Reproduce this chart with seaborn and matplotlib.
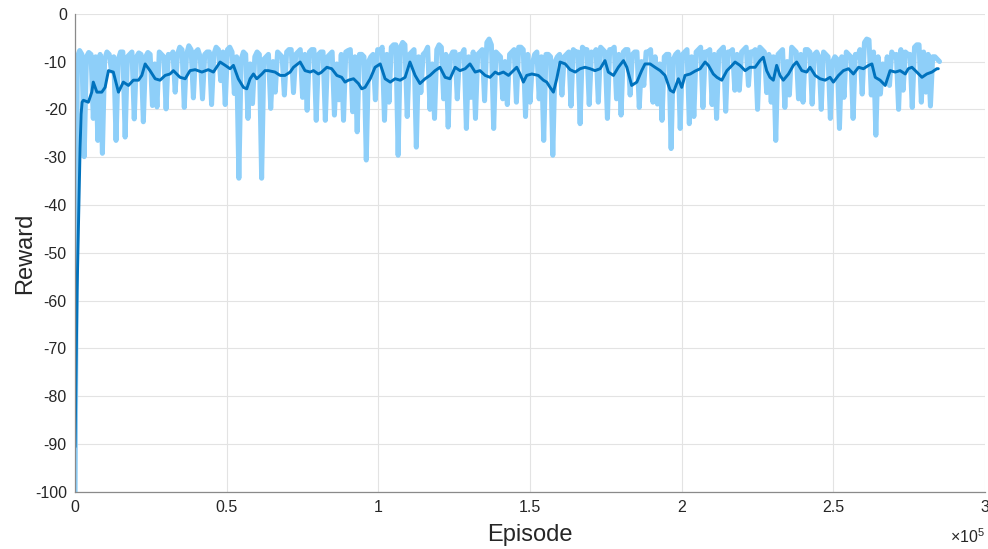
import matplotlib
matplotlib.use("Agg")
import matplotlib.pyplot as plt
import numpy as np
import pandas as pd
import seaborn as sns
from matplotlib.ticker import FuncFormatter, MultipleLocator

RAW_STEP = 750
raw_reward = [
    -100, -9.0, -7.7, -8.5, -29.9, -9.0, -8.1, -8.5, -21.9, -9.0,
    -26.5, -8.5, -29.2, -9.5, -8.0, -8.5, -12.0, -9.0, -26.5, -9.5,
    -8.0, -8.0, -25.8, -9.0, -8.5, -8.0, -22.0, -9.0, -8.2, -8.5,
    -22.6, -9.0, -8.1, -8.5, -19.2, -10.5, -19.5, -8.0, -8.5, -9.0,
    -19.9, -8.5, -9.0, -8.0, -16.4, -8.5, -7.0, -7.5, -19.6, -8.5,
    -6.7, -7.5, -17.6, -8.0, -7.5, -9.0, -17.8, -8.5, -8.0, -8.0,
    -19.0, -8.5, -7.0, -7.5, -14.0, -8.0, -19.0, -7.5, -7.0, -8.0,
    -16.7, -9.0, -34.4, -9.5, -8.0, -8.5, -21.9, -10.5, -18.8, -9.0,
    -8.0, -8.5, -34.4, -9.5, -9.0, -8.5, -19.8, -10.0, -16.4, -8.0,
    -8.5, -9.0, -17.0, -8.0, -7.5, -7.5, -16.5, -8.5, -8.0, -7.5,
    -17.5, -8.5, -20.2, -8.0, -7.5, -7.5, -22.3, -8.5, -8.0, -8.0,
    -22.3, -9.0, -8.5, -8.0, -21.2, -10.5, -18.0, -8.5, -22.3, -8.0,
    -7.7, -7.5, -20.5, -9.0, -24.7, -8.5, -8.5, -9.0, -30.6, -10.0,
    -9.0, -8.5, -18.0, -7.5, -8.0, -7.0, -22.3, -8.5, -18.5, -7.0,
    -6.5, -6.5, -29.6, -7.0, -6.0, -6.5, -21.5, -8.5, -8.0, -7.5,
    -27.9, -9.0, -16.5, -8.5, -8.0, -7.0, -20.0, -10.5, -21.9, -7.5,
    -6.5, -7.0, -17.8, -8.5, -23.7, -9.0, -8.0, -8.0, -17.8, -8.5,
    -8.5, -7.5, -24.0, -9.0, -17.5, -8.0, -21.9, -8.5, -8.0, -7.5,
    -18.2, -6.0, -5.3, -6.5, -24.0, -8.0, -8.5, -9.0, -17.8, -10.0,
    -19.0, -8.5, -8.0, -7.5, -18.5, -7.0, -7.0, -7.5, -21.5, -8.5,
    -18.5, -10.5, -8.5, -8.0, -17.8, -9.0, -26.5, -8.5, -8.5, -9.0,
    -29.6, -10.0, -9.0, -8.5, -17.0, -9.0, -8.5, -8.0, -19.3, -7.5,
    -8.0, -8.0, -23.0, -7.0, -7.5, -7.5, -19.0, -8.0, -8.5, -7.5,
    -18.5, -7.0, -7.5, -8.0, -21.9, -7.5, -7.5, -7.0, -17.8, -8.5,
    -21.2, -8.0, -7.5, -7.5, -17.0, -8.5, -8.0, -8.0, -19.6, -10.0,
    -15.0, -8.0, -8.0, -7.5, -18.5, -9.0, -18.9, -10.5, -22.3, -9.0,
    -8.5, -8.5, -28.2, -9.5, -8.5, -8.0, -24.0, -8.5, -8.0, -7.5,
    -23.0, -9.0, -21.5, -8.0, -7.5, -7.0, -19.6, -8.0, -8.0, -7.5,
    -19.0, -8.5, -21.9, -8.0, -7.5, -7.0, -20.4, -8.0, -8.0, -7.5,
    -16.0, -8.5, -16.0, -8.0, -7.5, -7.0, -15.0, -8.0, -8.0, -7.5,
    -20.0, -7.0, -7.5, -8.0, -16.5, -8.5, -18.5, -9.0, -26.5, -8.5,
    -8.0, -7.5, -19.6, -10.0, -17.0, -7.0, -7.5, -8.0, -17.8, -8.5,
    -18.5, -7.5, -7.5, -8.0, -18.9, -8.5, -8.0, -9.0, -20.0, -8.0,
    -8.5, -9.0, -21.9, -10.0, -9.0, -9.5, -24.0, -9.0, -17.5, -8.0,
    -8.5, -9.0, -21.9, -8.5, -9.0, -7.5, -16.8, -6.0, -5.3, -5.5,
    -17.0, -8.0, -25.4, -9.0, -16.8, -10.5, -13.9, -9.0, -15.0, -8.0,
    -9.0, -8.5, -20.0, -7.5, -16.0, -8.0, -8.5, -8.5, -19.6, -7.0,
    -6.5, -6.5, -18.5, -8.0, -16.4, -8.5, -19.3, -9.0, -9.0, -9.5,
    -10.0,
]

# smoothed reward (thousands of episodes, value)
smooth_episode_k = [
    0, 0.33, 0.66, 0.99, 1.32, 1.65, 1.98, 2.31, 2.74, 4.38,
    5.5, 6.0, 7.2, 8.8, 9.9, 11.0, 12.6, 14.3, 15.9, 17.6,
    19.2, 20.9, 22.0, 23.1, 24.7, 26.4, 28.0, 29.7, 31.3, 32.4,
    34.6, 36.3, 37.9, 39.6, 41.8, 43.9, 45.6, 47.8, 49.5, 51.1,
    52.2, 53.8, 55.5, 56.6, 57.7, 58.8, 59.9, 61.6, 62.6, 63.7,
    65.9, 67.6, 69.2, 70.9, 72.0, 74.2, 75.8, 77.5, 78.6, 80.2,
    81.1, 83.0, 84.6, 86.3, 87.9, 89.0, 90.1, 91.8, 93.4, 94.5,
    95.6, 97.3, 98.9, 100.6, 102.2, 103.9, 105.5, 107.2, 108.8, 110.4,
    112.1, 113.7, 115.4, 117.0, 118.7, 120.3, 122.0, 123.6, 125.3, 126.9,
    128.6, 130.2, 131.9, 133.5, 135.2, 136.8, 138.5, 139.6, 141.2, 142.9,
    144.5, 145.6, 146.7, 147.8, 148.9, 150.6, 152.7, 154.4, 155.5, 156.6,
    157.7, 158.8, 159.9, 161.6, 163.2, 164.9, 166.5, 168.1, 169.8, 171.4,
    173.1, 174.7, 175.8, 177.5, 179.1, 180.8, 181.9, 183.5, 185.2, 186.8,
    187.9, 189.6, 191.2, 192.9, 194.5, 196.2, 197.3, 198.9, 200.0, 201.1,
    202.8, 204.4, 206.1, 207.7, 208.8, 210.4, 211.6, 213.2, 214.9, 216.0,
    217.6, 219.2, 220.9, 222.5, 224.2, 225.8, 226.9, 228.0, 229.1, 230.2,
    231.3, 232.4, 233.5, 235.2, 236.8, 237.9, 239.6, 241.2, 242.3, 244.0,
    245.6, 247.3, 248.9, 250.0, 251.7, 253.3, 255.0, 256.6, 258.3, 259.9,
    261.6, 262.7, 263.8, 265.4, 267.1, 268.7, 270.4, 272.0, 273.7, 274.7,
    275.9, 277.5, 279.2, 280.8, 282.5, 284.1, 284.6,
]
smooth_reward = [
    -90.6, -75.0, -58.0, -48.0, -39.0, -28.0, -21.0, -18.5, -18.1, -18.5,
    -16.4, -14.3, -16.4, -16.4, -15.4, -11.9, -12.2, -16.4, -14.3, -15.0,
    -13.9, -13.9, -12.9, -10.5, -11.9, -13.6, -13.9, -12.9, -12.6, -11.9,
    -13.3, -13.6, -11.9, -11.7, -12.2, -11.7, -12.2, -10.1, -10.8, -11.5,
    -10.8, -13.6, -15.4, -15.7, -13.6, -12.6, -13.6, -12.6, -11.9, -11.9,
    -12.2, -12.9, -12.9, -12.2, -11.2, -10.1, -11.9, -12.2, -11.9, -12.6,
    -12.3, -11.2, -11.5, -12.9, -13.3, -14.3, -13.9, -13.6, -14.6, -15.7,
    -15.4, -13.6, -11.2, -10.5, -13.6, -14.3, -13.6, -13.9, -13.3, -10.1,
    -12.9, -14.6, -13.6, -12.9, -11.9, -11.2, -13.3, -13.6, -11.2, -11.9,
    -11.5, -10.5, -12.2, -11.9, -12.9, -13.3, -12.2, -12.6, -12.2, -12.9,
    -11.9, -11.2, -12.6, -14.3, -12.9, -12.6, -12.9, -13.9, -14.3, -15.4,
    -16.4, -13.6, -10.1, -10.5, -11.7, -12.2, -11.5, -11.2, -11.5, -11.9,
    -11.5, -9.8, -12.2, -12.9, -11.2, -9.8, -11.2, -15.0, -14.3, -11.9,
    -10.5, -10.5, -11.2, -11.9, -12.9, -16.0, -16.4, -13.6, -15.4, -12.9,
    -12.6, -12.0, -11.5, -10.1, -10.8, -12.6, -13.3, -13.9, -11.9, -11.2,
    -10.1, -10.8, -11.9, -11.2, -11.2, -9.8, -9.1, -11.9, -13.3, -13.9,
    -10.8, -12.9, -13.9, -12.6, -10.8, -10.1, -11.9, -12.2, -11.2, -12.9,
    -13.6, -13.9, -13.3, -14.3, -12.9, -11.9, -11.5, -12.6, -11.2, -11.5,
    -10.8, -10.5, -13.3, -13.9, -15.0, -11.9, -12.2, -11.9, -12.6, -11.5,
    -11.2, -12.2, -13.3, -12.6, -12.2, -11.5, -11.5,
]

raw_df = pd.DataFrame({
    "episode": np.arange(len(raw_reward)) * RAW_STEP,
    "reward": raw_reward,
})
smooth_df = pd.DataFrame({
    "episode": np.array(smooth_episode_k) * 1000,
    "reward": smooth_reward,
})

sns.set_style("white")
plt.rcParams["font.family"] = ["Liberation Sans", "DejaVu Sans"]
plt.rcParams["axes.unicode_minus"] = False
plt.rcParams["mathtext.fontset"] = "custom"
plt.rcParams["mathtext.rm"] = "Liberation Sans"

fig, ax = plt.subplots(figsize=(9.88, 5.49), dpi=100)
fig.subplots_adjust(left=0.076, right=0.997, top=0.975, bottom=0.104)

sns.lineplot(data=raw_df, x="episode", y="reward", ax=ax, color="#8ECFF9",
             linewidth=3.6, estimator=None)
sns.lineplot(data=smooth_df, x="episode", y="reward", ax=ax, color="#0072BD",
             linewidth=2.1, estimator=None)

ax.set_xlim(0, 300000)
ax.set_ylim(-100, 0)
ax.xaxis.set_major_locator(MultipleLocator(50000))
ax.yaxis.set_major_locator(MultipleLocator(10))
ax.xaxis.set_major_formatter(FuncFormatter(lambda v, p: f"{v / 1e5:g}"))

ax.grid(True, color="#E3E3E3", linewidth=0.8)
ax.set_axisbelow(True)
for side in ["top", "right"]:
    ax.spines[side].set_visible(False)
for side in ["left", "bottom"]:
    ax.spines[side].set_color("#8A8A8A")
    ax.spines[side].set_linewidth(0.9)

ax.tick_params(axis="both", direction="in", length=4, width=0.8,
               color="#8A8A8A", labelsize=11.5, labelcolor="#262626", pad=6)

ax.set_xlabel("Episode", fontsize=17, color="#262626", labelpad=6)
ax.set_ylabel("Reward", fontsize=17, color="#262626", labelpad=-1)

ax.text(1.0, -0.075, r"$\mathregular{\times10^5}$", transform=ax.transAxes,
        ha="right", va="top", fontsize=11.5, color="#262626")

fig.savefig("out.png", dpi=100)
